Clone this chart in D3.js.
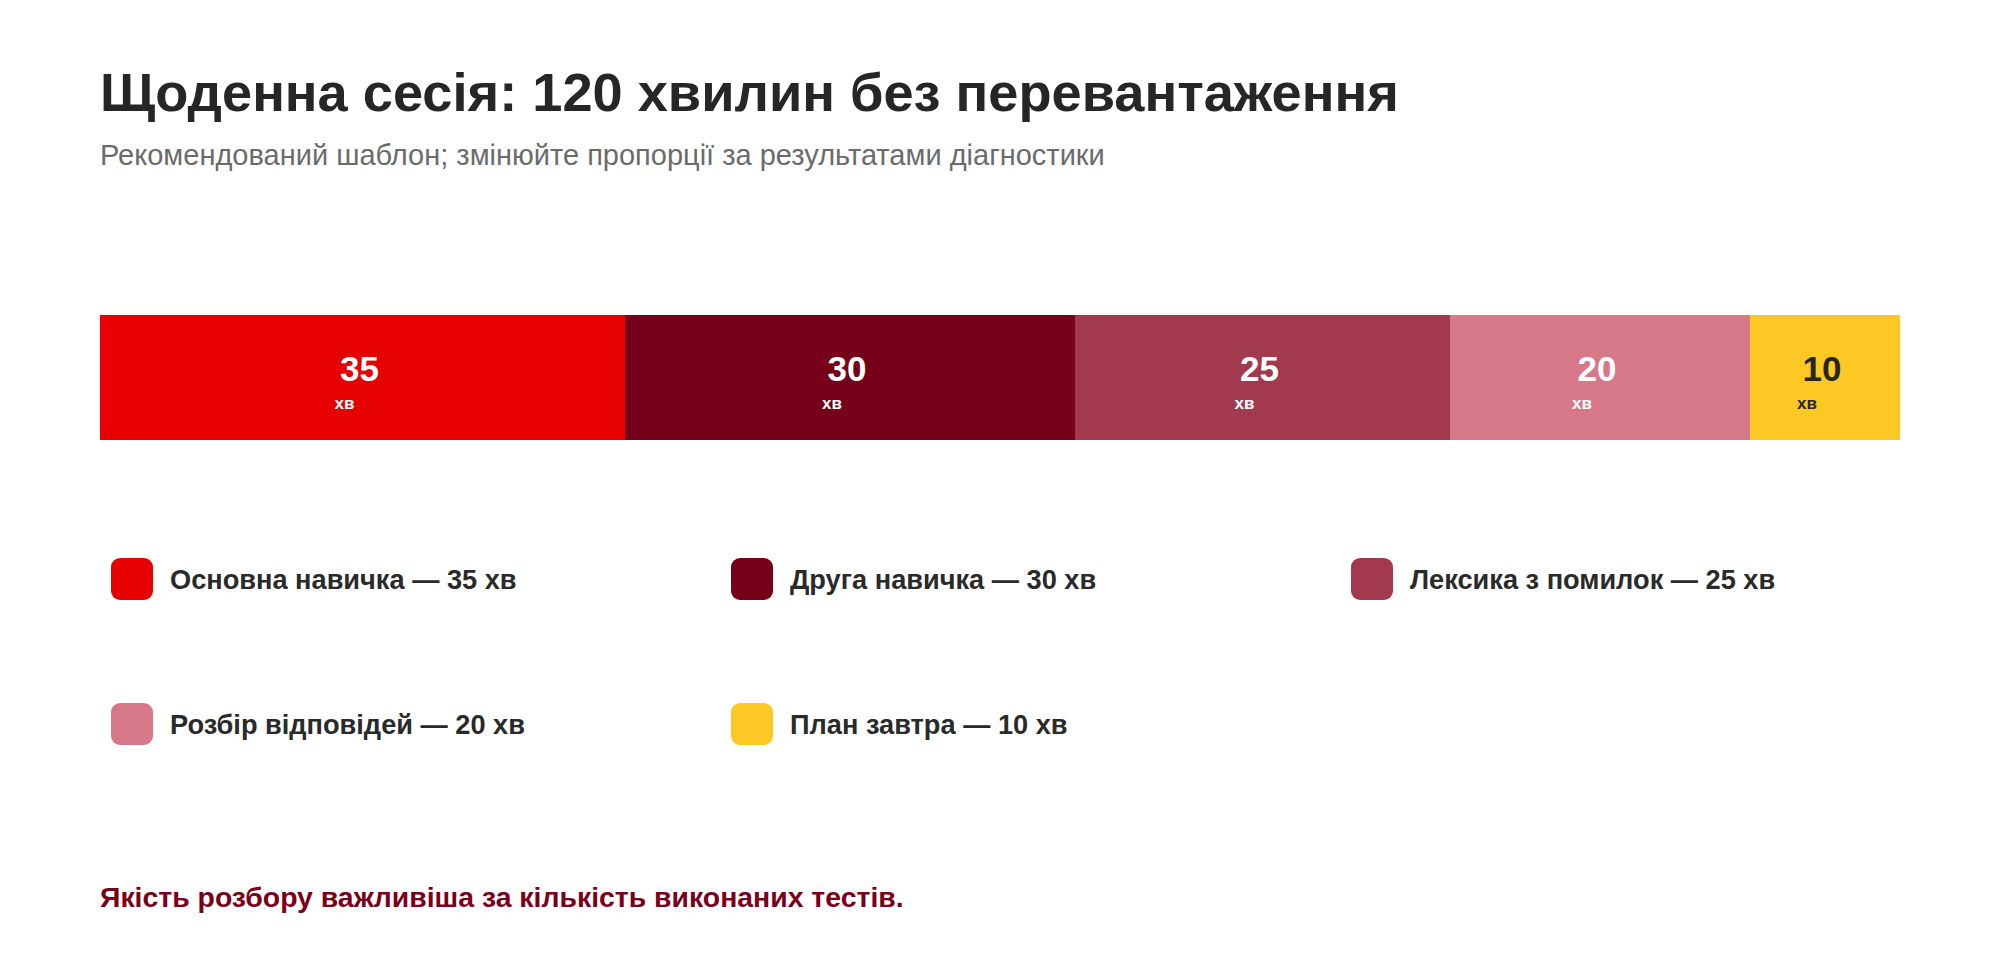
<!DOCTYPE html>
<html><head><meta charset="utf-8">
<script src="https://cdn.jsdelivr.net/npm/d3@7/dist/d3.min.js"></script>
<style>
html,body{margin:0;padding:0;background:#fff;}
svg{display:block;}
</style></head>
<body>
<svg id="c" width="2000" height="980" font-family="'Liberation Sans', Arial, Helvetica, sans-serif"></svg>
<script>
const titleText = "Щоденна сесія: 120 хвилин без перевантаження";
const subtitleText = "Рекомендований шаблон; змінюйте пропорції за результатами діагностики";
const footText = "Якість розбору важливіша за кількість виконаних тестів.";
const categories = ["Основна навичка","Друга навичка","Лексика з помилок","Розбір відповідей","План завтра"];
const minutes = [35,30,25,20,10];
const colors = ["#e60000","#760019","#a2394e","#d67887","#fdc823"];
const labelColors = ["#ffffff","#ffffff","#ffffff","#ffffff","#262626"];
const unit = "хв";

const svg = d3.select("#c");
svg.append("text").attr("x",100).attr("y",111).attr("font-size",54.2).attr("font-weight","bold")
  .attr("fill","#262626").text(titleText);
svg.append("text").attr("x",100).attr("y",165).attr("font-size",29).attr("fill","#6b6b6b").text(subtitleText);

const total = d3.sum(minutes);
const x = d3.scaleLinear().domain([0,total]).range([100,1900]);
const starts = d3.cumsum([0].concat(minutes.slice(0,-1)));
const data = categories.map((c,i)=>({c,v:minutes[i],s:starts[i],col:colors[i],lc:labelColors[i]}));

const barTop = 315, barH = 125;
const seg = svg.append("g").selectAll("g").data(data).join("g");
seg.append("rect").attr("x",d=>x(d.s)).attr("y",barTop).attr("width",d=>x(d.s+d.v)-x(d.s)).attr("height",barH).attr("fill",d=>d.col);
seg.append("text").attr("x",d=>(x(d.s)+x(d.s+d.v))/2-3).attr("y",381).attr("text-anchor","middle")
  .attr("font-size",35).attr("font-weight","bold").attr("fill",d=>d.lc).text(d=>d.v);
seg.append("text").attr("x",d=>(x(d.s)+x(d.s+d.v))/2-18).attr("y",409).attr("text-anchor","middle")
  .attr("font-size",17).attr("font-weight","bold").attr("fill",d=>d.lc).text(unit);

const lg = svg.append("g").selectAll("g").data(data).join("g")
  .attr("transform",(d,i)=>`translate(${111+(i%3)*620},${558+Math.floor(i/3)*145})`);
lg.append("rect").attr("width",42).attr("height",42).attr("rx",9).attr("fill",d=>d.col);
lg.append("text").attr("x",59).attr("y",31).attr("font-size",27.2).attr("font-weight","bold").attr("fill","#2a2a2a")
  .text(d=>`${d.c} — ${d.v} ${unit}`);

svg.append("text").attr("x",100).attr("y",907).attr("font-size",28.4).attr("font-weight","bold").attr("fill","#7a0019").text(footText);
</script>
</body></html>
